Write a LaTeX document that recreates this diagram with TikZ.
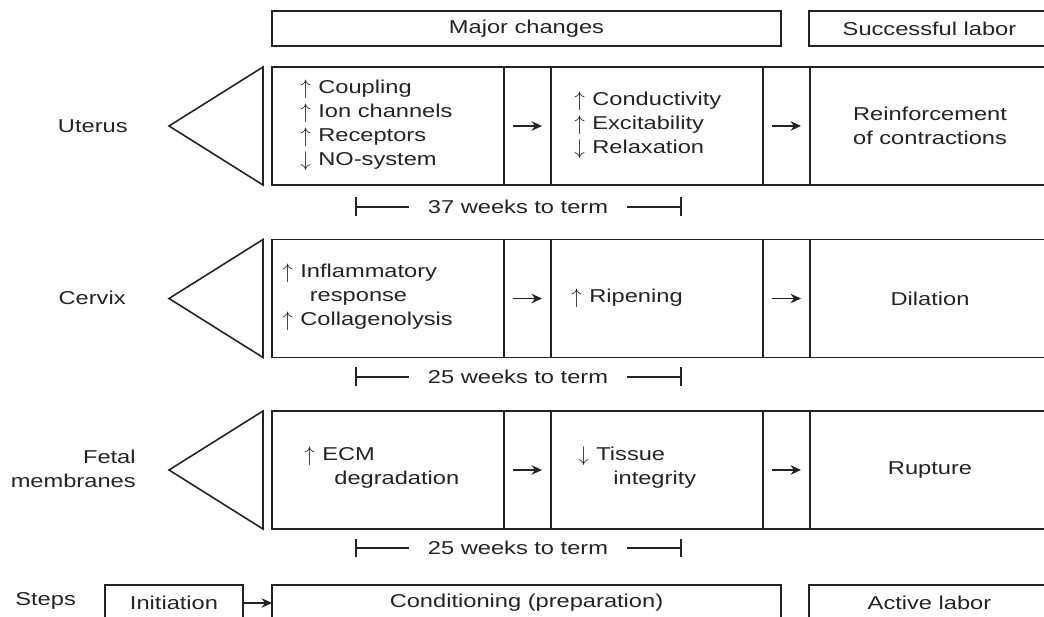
\documentclass[tikz,border=0pt]{standalone}
\usepackage{fontspec}
\setmainfont{Liberation Sans}[FakeStretch=1.27]
\usetikzlibrary{arrows.meta,positioning}
\definecolor{ink}{RGB}{35,35,35}
\newcommand{\figfont}{\fontsize{10.6}{13.6}\selectfont}
\newcommand{\incr}{\raisebox{-0.6pt}{\fontsize{12.5}{12.5}\selectfont$\uparrow$}\hspace{0.4em}}
\newcommand{\decr}{\raisebox{-0.6pt}{\fontsize{12.5}{12.5}\selectfont$\downarrow$}\hspace{0.4em}}
\tikzset{
  >={Stealth[length=2.1mm,width=1.9mm]},
  cell/.style={draw=ink,line width=0.9pt,minimum width=#1,minimum height=2.36cm,
    inner sep=0pt,outer sep=0pt,font=\figfont,text=ink,align=center},
  cell/.default=4.64cm,
  head/.style={cell=#1,minimum height=0.7cm},
  lbl/.style={font=\figfont,text=ink,inner sep=0pt},
  edge line/.style={draw=ink,line width=0.9pt},
  flow/.style={->,edge line,shorten <=0.18cm,shorten >=0.18cm},
  span/.style={edge line,-{Bar[width=3.8mm]}},
}

\begin{document}
\begin{tikzpicture}[x=0.02cm,y=-0.02cm]
  \useasboundingbox (0,0) rectangle (1044,617);
  % headings
  \node[head=10.18cm] (major) at (526.5,28.5) {Major changes};
  \node[head=4.82cm] (success) at (929.5,28.5) {Successful labor};
  % one row per tissue
  \foreach \r/\y/\t in {u/126/{Reinforcement\\of contractions},c/298.5/Dilation,f/470/Rupture}{
    \draw[edge line] (263,\y-59) -- (169,\y) -- (263,\y+59) -- cycle;
    \node[cell] (\r1) at (388,\y) {};
    \node[cell=4.24cm] (\r2) at (657,\y) {};
    \node[cell=4.8cm] (\r3) at (930,\y) {\t};
    \draw[edge line] (\r1.north east) -- (\r2.north west) (\r1.south east) -- (\r2.south west)
      (\r2.north east) -- (\r3.north west) (\r2.south east) -- (\r3.south west);
    \draw[flow] (\r1) -- (\r2);
    \draw[flow] (\r2) -- (\r3);
  }
  \node[lbl,anchor=east] (uterus) at (128,126) {Uterus};
  \node[lbl,anchor=east] (cervix) at (126,298) {Cervix};
  \node[lbl,anchor=east,align=right] (membr) at (136,469) {Fetal\\membranes};
  % changes
  \node[lbl,anchor=west,align=left] (ut1) at (300,125) {\incr Coupling\\\incr Ion channels\\\incr Receptors\\\decr NO-system};
  \node[lbl,anchor=west,align=left] (ut2) at (574,125) {\incr Conductivity\\\incr Excitability\\\decr Relaxation};
  \node[lbl,anchor=west,align=left] (ce1) at (282,297) {\incr Inflammatory\\\hspace*{0.55cm}response\\\incr Collagenolysis};
  \node[lbl,anchor=west] (ce2) at (571,298) {\incr Ripening};
  \node[lbl,anchor=west,align=left] (fm1) at (304,468) {\incr ECM\\\hspace*{0.6cm}degradation};
  \node[lbl,anchor=west,align=left] (fm2) at (578,468) {\decr Tissue\\\hspace*{0.7cm}integrity};
  % time spans
  \foreach \w/\y/\n in {w1/207/37,w2/377/25,w3/548/25}{
    \node[lbl,inner xsep=0.38cm] (\w) at (518,\y) {\n{} weeks to term};
    \coordinate (\w l) at (355,\y);
    \coordinate (\w r) at (682,\y);
    \draw[span] (\w.west) -- (\w l);
    \draw[span] (\w.east) -- (\w r);
  }
  % steps
  \node[lbl,anchor=west] (steps) at (15,601) {Steps};
  \node[cell=2.76cm,minimum height=0.72cm] (init) at (174,603) {Initiation};
  \node[cell=10.18cm,minimum height=0.72cm] (cond) at (526.5,603) {Conditioning (preparation)};
  \node[cell=4.82cm,minimum height=0.72cm] (active) at (929.5,603) {Active labor};
  \draw[->,edge line] (init) -- (cond);
\end{tikzpicture}
\end{document}
